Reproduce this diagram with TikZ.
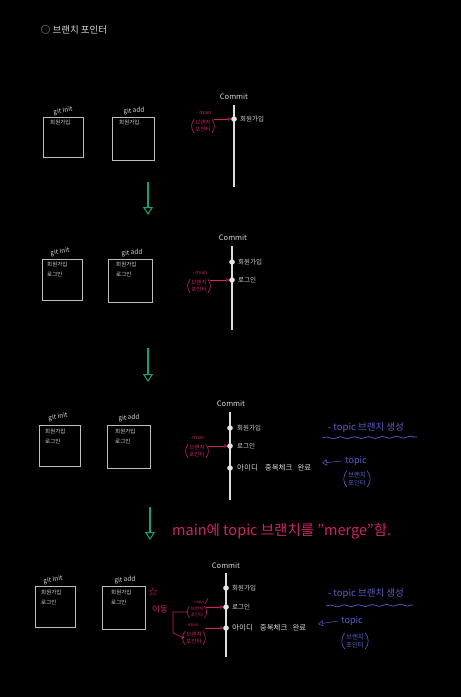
\documentclass[tikz,border=0pt]{standalone}
\usepackage{fontspec}
\setmainfont{Noto Sans CJK KR}
\usetikzlibrary{arrows.meta,decorations.pathmorphing}
\definecolor{chalk}{HTML}{D6D6D6}
\definecolor{boxgray}{HTML}{BDBDBD}
\definecolor{ptrpink}{HTML}{CC2466}
\definecolor{ptrblue}{HTML}{5A5EC6}
\definecolor{downgreen}{HTML}{1A9E78}

\begin{document}
\begin{tikzpicture}[x=1pt,y=-1pt,
    lbl/.style={text=chalk,font=\fontsize{6.5}{7}\selectfont,inner sep=0pt},
    boxtxt/.style={text=chalk,font=\fontsize{5.5}{10}\selectfont,inner sep=0pt,anchor=north west,align=left},
    msg/.style={text=chalk,font=\fontsize{6.5}{7}\selectfont,inner sep=0pt,anchor=west},
    longmsg/.style={msg,font=\fontsize{7.5}{8}\selectfont},
    repo/.style={draw=boxgray,line width=0.9pt},
    trunk/.style={draw=chalk!80,line width=1.3pt},
    dot/.style={circle,fill=chalk!60,draw=chalk,line width=0.5pt,minimum size=5pt,inner sep=0pt},
    ptr/.style={font=\fontsize{5.5}{6.5}\selectfont,inner sep=1pt,align=center},
    ptrname/.style={font=\fontsize{5}{6}\selectfont,inner sep=0pt},
    ptrarrow/.style={-{Triangle[open,length=3pt,width=3.5pt]},line width=0.5pt},
    down/.style={draw=downgreen,line width=1.2pt,-{Triangle[open,length=8pt,width=10pt,line width=1pt]}},
    wave/.style={decorate,decoration={snake,segment length=14pt,amplitude=1pt},line width=0.7pt}]

\fill[black] (0,0) rectangle (461,697);
\useasboundingbox (0,0) rectangle (461,697);

% title
\node[text=chalk,font=\fontsize{9.5}{10}\selectfont] (title) at (74,30) {○ 브랜치 포인터};

% ---------- step 1 ----------
\node[lbl,rotate=8] (init1) at (63,111) {git init};
\draw[repo] (43,117) rectangle (83,157);
\node[boxtxt] (wd1) at (50,120) {회원가입.};
\node[lbl,rotate=5] (add1) at (134,111) {git add};
\draw[repo] (112,117) rectangle (154,160);
\node[boxtxt] (st1) at (119,120) {회원가입.};

\node[lbl,font=\fontsize{7.5}{8}\selectfont] (head1) at (234,97) {Commit};
\coordinate (top1) at (234,105);
\coordinate (bot1) at (234,187);
\draw[trunk] (top1) -- (bot1);
\node[dot] (c11) at (234,119) {};
\node[msg] (m11) at (240,119) {회원가입};

\node[ptr,text=ptrpink] (main1) at (203,126) {브랜치\\포인터};
\node[ptrname,text=ptrpink] (mname1) at (204,113) {- main};
\draw[ptrpink,line width=0.6pt] (main1.north west) to[bend right=40] (main1.south west);
\draw[ptrpink,line width=0.6pt] (main1.north east) to[bend left=40] (main1.south east);
\draw[ptrarrow,ptrpink] ([xshift=2pt]main1.east |- c11) -- (c11);

\coordinate (g1a) at (148,182);
\coordinate (g1b) at (148,215);
\draw[down] (g1a) -- (g1b);

% ---------- step 2 ----------
\node[lbl,rotate=8] (init2) at (60,252) {git init};
\draw[repo] (42,259) rectangle (82,300);
\node[boxtxt] (wd2) at (47,262) {회원가입\\로그인};
\node[lbl,rotate=5] (add2) at (132,253) {git add};
\draw[repo] (108,259) rectangle (152,302);
\node[boxtxt] (st2) at (116,262) {회원가입\\로그인};

\node[lbl,font=\fontsize{7.5}{8}\selectfont] (head2) at (233,238) {Commit};
\coordinate (top2) at (232,246);
\coordinate (bot2) at (232,330);
\draw[trunk] (top2) -- (bot2);
\node[dot] (c21) at (232,262) {};
\node[dot] (c22) at (232,280) {};
\node[msg] (m21) at (238,262) {회원가입};
\node[msg] (m22) at (238,280) {로그인};

\node[ptr,text=ptrpink] (main2) at (199,286) {브랜치\\포인터};
\node[ptrname,text=ptrpink] (mname2) at (200,273) {- main};
\draw[ptrpink,line width=0.6pt] (main2.north west) to[bend right=40] (main2.south west);
\draw[ptrpink,line width=0.6pt] (main2.north east) to[bend left=40] (main2.south east);
\draw[ptrarrow,ptrpink] ([xshift=2pt]main2.east |- c22) -- (c22);

\coordinate (g2a) at (148,348);
\coordinate (g2b) at (148,382);
\draw[down] (g2a) -- (g2b);

% ---------- step 3 ----------
\node[lbl,rotate=8] (init3) at (58,417) {git init};
\draw[repo] (39,425) rectangle (80,466);
\node[boxtxt] (wd3) at (45,429) {회원가입\\로그인};
\node[lbl,rotate=5] (add3) at (129,418) {git add};
\draw[repo] (107,425) rectangle (150,468);
\node[boxtxt] (st3) at (115,429) {회원가입\\로그인};

\node[lbl,font=\fontsize{7.5}{8}\selectfont] (head3) at (231,404) {Commit};
\coordinate (top3) at (230,412);
\coordinate (bot3) at (230,500);
\draw[trunk] (top3) -- (bot3);
\node[dot] (c31) at (230,428) {};
\node[dot] (c32) at (230,446) {};
\node[dot] (c33) at (230,468) {};
\node[msg] (m31) at (237,428) {회원가입};
\node[msg] (m32) at (237,446) {로그인};
\node[longmsg] (m33) at (237,468) {아이디\hspace{7pt}중복체크\hspace{5pt}완료};

\node[ptr,text=ptrpink] (main3) at (197,451) {브랜치\\포인터};
\node[ptrname,text=ptrpink] (mname3) at (197,438) {- main};
\draw[ptrpink,line width=0.6pt] (main3.north west) to[bend right=40] (main3.south west);
\draw[ptrpink,line width=0.6pt] (main3.north east) to[bend left=40] (main3.south east);
\draw[ptrarrow,ptrpink] ([xshift=2pt]main3.east |- c32) -- (c32);

\node[text=ptrblue,font=\fontsize{9.5}{10}\selectfont,inner sep=0pt] (new3) at (366,428) {- topic 브랜치 생성};
\coordinate (w3a) at (322,438);
\coordinate (w3b) at (417,437);
\draw[wave,ptrblue] (w3a) -- (w3b);
\node[text=ptrblue,font=\fontsize{9}{9}\selectfont,inner sep=1pt] (tname3) at (356,461) {topic};
\node[ptr,text=ptrblue,font=\fontsize{6.5}{8}\selectfont] (topic3) at (357,479) {브랜치\\포인터};
\draw[ptrblue,line width=0.6pt] (topic3.north west) to[bend right=40] (topic3.south west);
\draw[ptrblue,line width=0.6pt] (topic3.north east) to[bend left=40] (topic3.south east);
\coordinate (tip3) at (322,463);
\draw[ptrarrow,ptrblue,-{Triangle[open,length=5pt,width=6pt]}] ([xshift=-2pt]tname3.west) -- (tip3);

\coordinate (g3a) at (150,507);
\coordinate (g3b) at (150,540);
\draw[down] (g3a) -- (g3b);
\node[text=ptrpink,font=\fontsize{14.5}{15}\selectfont,anchor=west,inner sep=0pt] (merge) at (172,531) {main에 topic 브랜치를 "merge"함.};

% ---------- step 4 ----------
\node[lbl,rotate=8] (init4) at (53,580) {git init};
\draw[repo] (35,586) rectangle (75,627);
\node[boxtxt] (wd4) at (41,590) {회원가입\\로그인};
\node[lbl,rotate=5] (add4) at (125,580) {git add};
\draw[repo] (102,586) rectangle (145,629);
\node[boxtxt] (st4) at (111,590) {회원가입\\로그인};

\node[text=ptrpink,font=\fontsize{10}{10}\selectfont,inner sep=0pt] (star) at (153,592) {☆};
\node[text=ptrpink,font=\fontsize{8.5}{9}\selectfont,inner sep=0pt] (move) at (160,609) {이동};

\node[lbl,font=\fontsize{7.5}{8}\selectfont] (head4) at (226,566) {Commit};
\coordinate (top4) at (226,573);
\coordinate (bot4) at (226,657);
\draw[trunk] (top4) -- (bot4);
\node[dot] (c41) at (226,588) {};
\node[dot] (c42) at (226,607) {};
\node[dot] (c43) at (226,628) {};
\node[msg] (m41) at (232,588) {회원가입};
\node[msg] (m42) at (232,607) {로그인};
\node[longmsg] (m43) at (232,628) {아이디\hspace{7pt}중복체크\hspace{5pt}완료};

\node[ptr,text=ptrpink,font=\fontsize{4.5}{5.5}\selectfont] (oldmain) at (197,612) {브랜치\\포인터};
\node[ptrname,text=ptrpink,font=\fontsize{4}{5}\selectfont] (oldname) at (198,602) {- main};
\draw[ptrpink,line width=0.5pt] (oldmain.north west) to[bend right=40] (oldmain.south west);
\draw[ptrpink,line width=0.5pt] (oldmain.north east) to[bend left=40] (oldmain.south east);
\draw[ptrpink,line width=0.5pt] ([xshift=1pt]oldname.south east) -- ([xshift=4pt,yshift=2pt]oldname.north east);
\draw[ptrarrow,ptrpink] ([xshift=2pt]oldmain.east |- c42) -- (c42);

\node[ptr,text=ptrpink] (main4) at (194,638) {브랜치\\포인터};
\node[ptrname,text=ptrpink,font=\fontsize{4.5}{5}\selectfont] (mname4) at (192,625) {- main};
\draw[ptrpink,line width=0.6pt] (main4.north west) to[bend right=40] (main4.south west);
\draw[ptrpink,line width=0.6pt] (main4.north east) to[bend left=40] (main4.south east);
\draw[ptrarrow,ptrpink] ([xshift=2pt]main4.east |- c43) -- (c43);

\coordinate (mv1) at (173,612);
\coordinate (mv2) at (173,633);
\draw[ptrpink,line width=0.6pt,-{Straight Barb[length=2pt,width=3pt]}] ([xshift=-2pt]oldmain.west) -- (mv1) -- (mv2) -- ([xshift=-1pt]main4.west);

\node[text=ptrblue,font=\fontsize{9.5}{10}\selectfont,inner sep=0pt] (new4) at (366,594) {- topic 브랜치 생성};
\coordinate (w4a) at (326,606);
\coordinate (w4b) at (413,605);
\draw[wave,ptrblue] (w4a) -- (w4b);
\node[text=ptrblue,font=\fontsize{9}{9}\selectfont,inner sep=1pt] (tname4) at (352,621) {topic};
\node[ptr,text=ptrblue,font=\fontsize{6.5}{8}\selectfont] (topic4) at (355,641) {브랜치\\포인터};
\draw[ptrblue,line width=0.6pt] (topic4.north west) to[bend right=40] (topic4.south west);
\draw[ptrblue,line width=0.6pt] (topic4.north east) to[bend left=40] (topic4.south east);
\coordinate (tip4) at (318,624);
\draw[ptrarrow,ptrblue,-{Triangle[open,length=5pt,width=6pt]}] ([xshift=-2pt]tname4.west) -- (tip4);

\end{tikzpicture}
\end{document}
